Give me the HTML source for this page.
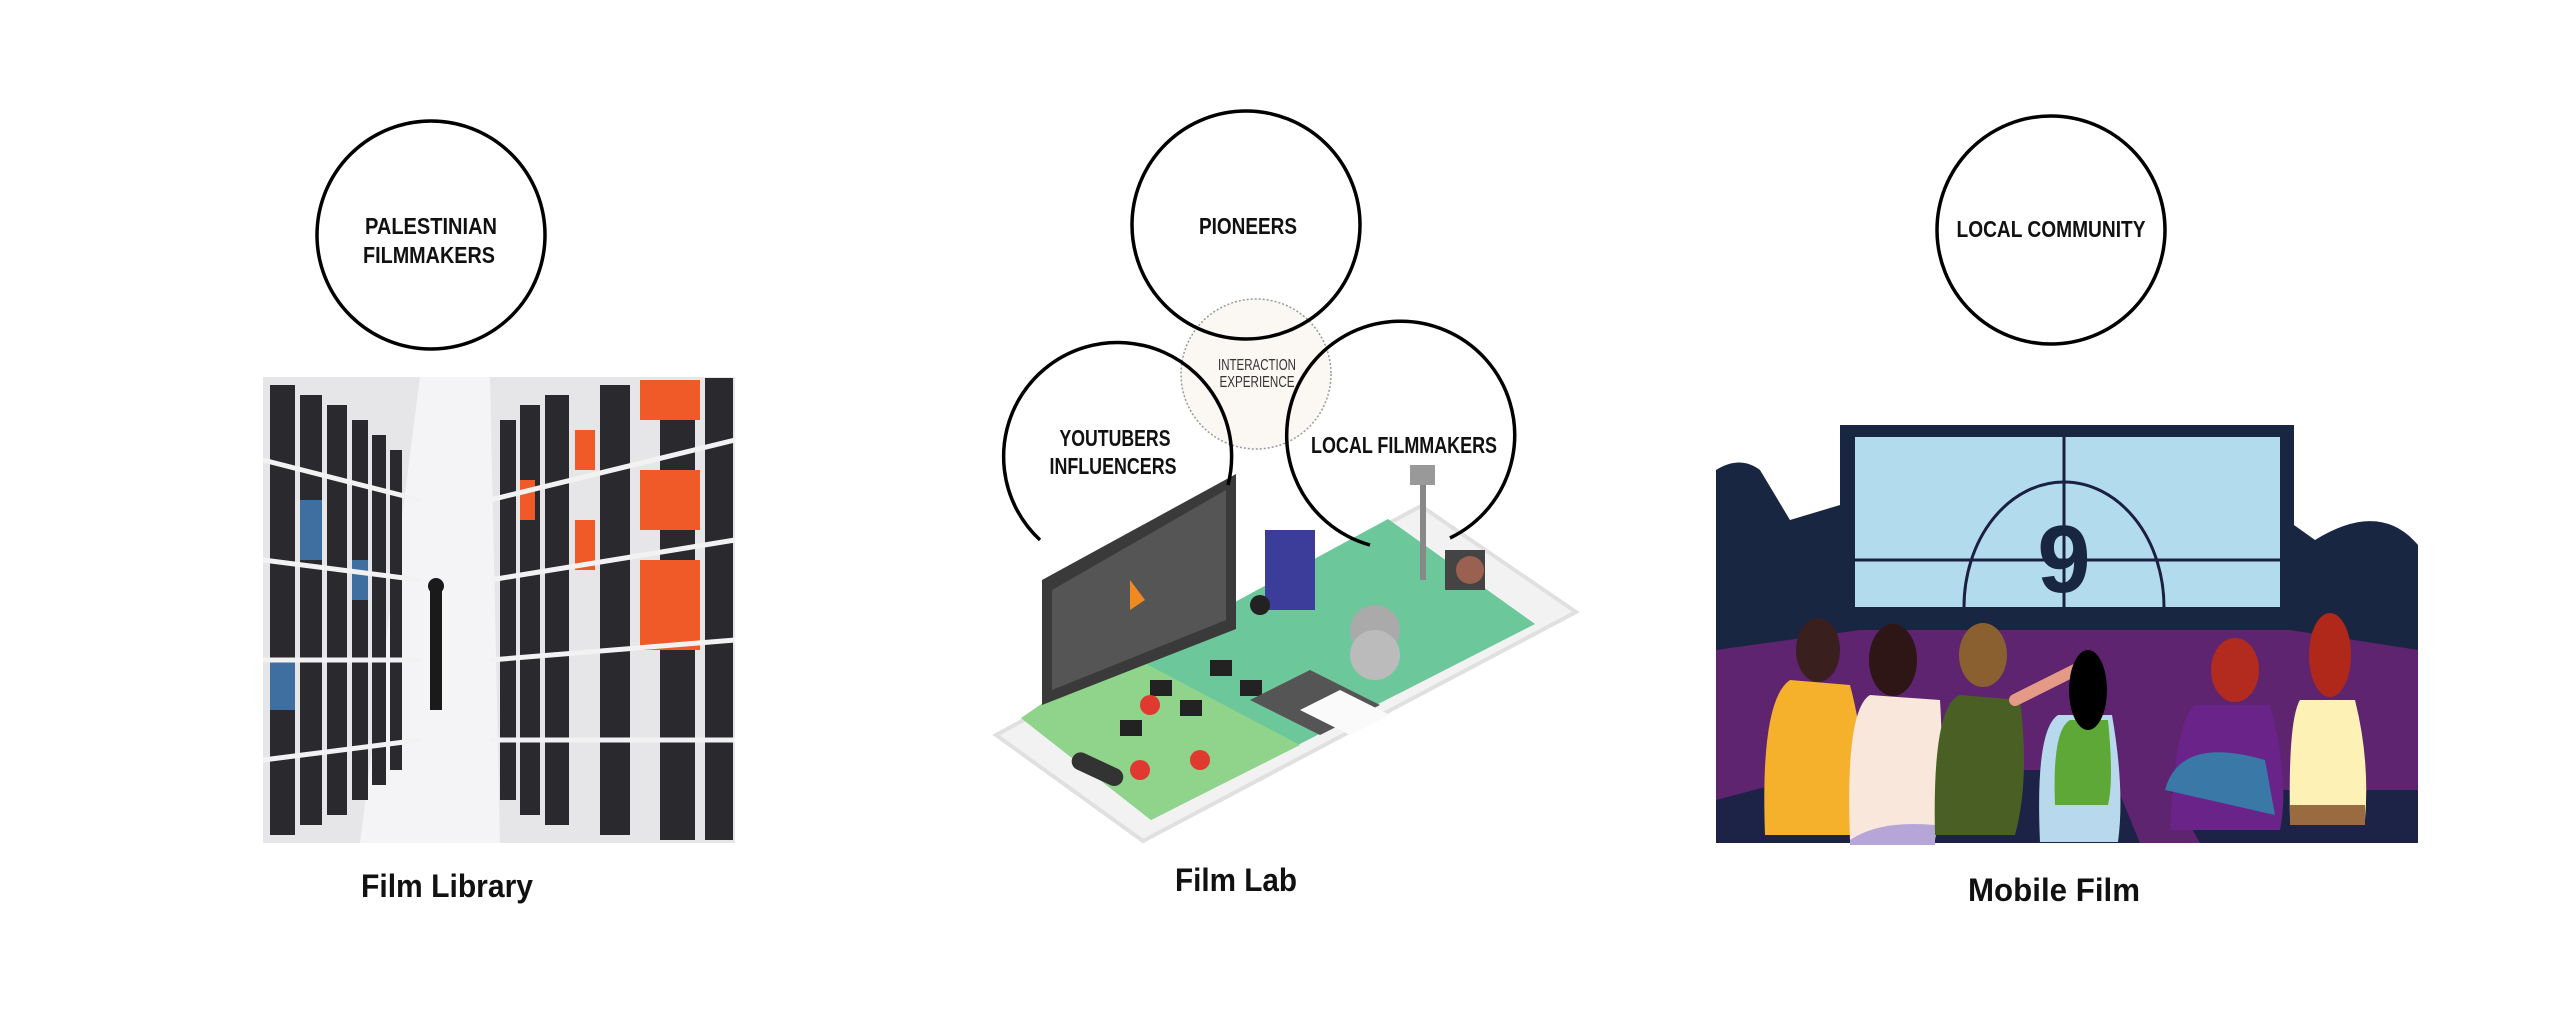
<!DOCTYPE html>
<html><head><meta charset="utf-8"><style>
html,body{margin:0;padding:0;background:#fff;}
svg{display:block}
.c{font-family:"Liberation Sans",sans-serif;font-weight:bold;font-size:23px;fill:#111;text-anchor:middle}
.l{font-family:"Liberation Sans",sans-serif;font-weight:bold;font-size:32px;fill:#111;text-anchor:middle}
</style></head><body>
<svg width="2560" height="1020" viewBox="0 0 2560 1020" xmlns="http://www.w3.org/2000/svg">
<!-- Film Library image -->
<g>
<rect x="263" y="377" width="472" height="466" fill="#e6e6e8"/>
<polygon points="420,377 490,377 500,843 360,843" fill="#f4f4f6"/>
<g fill="#2a2a2e">
<rect x="270" y="385" width="25" height="450"/><rect x="300" y="395" width="22" height="430"/><rect x="327" y="405" width="20" height="410"/><rect x="352" y="420" width="16" height="380"/><rect x="372" y="435" width="14" height="350"/><rect x="390" y="450" width="12" height="320"/>
<rect x="500" y="420" width="16" height="380"/><rect x="520" y="405" width="20" height="410"/><rect x="545" y="395" width="24" height="430"/><rect x="600" y="385" width="30" height="450"/><rect x="660" y="380" width="35" height="460"/><rect x="705" y="378" width="28" height="462"/>
</g>
<g fill="#f05a28"><rect x="640" y="380" width="60" height="40"/><rect x="640" y="470" width="60" height="60"/><rect x="640" y="560" width="60" height="90"/><rect x="575" y="520" width="20" height="50"/><rect x="575" y="430" width="20" height="40"/><rect x="520" y="480" width="15" height="40"/></g>
<g fill="#3f6ea0"><rect x="300" y="500" width="22" height="60"/><rect x="352" y="560" width="16" height="40"/><rect x="270" y="660" width="25" height="50"/></g>
<g stroke="#f2f2f2" stroke-width="5">
<line x1="263" y1="460" x2="420" y2="500"/><line x1="263" y1="560" x2="420" y2="580"/><line x1="263" y1="660" x2="420" y2="660"/><line x1="263" y1="760" x2="420" y2="740"/>
<line x1="735" y1="440" x2="490" y2="500"/><line x1="735" y1="540" x2="490" y2="580"/><line x1="735" y1="640" x2="490" y2="660"/><line x1="735" y1="740" x2="490" y2="740"/>
</g>
<rect x="430" y="590" width="12" height="120" fill="#1a1a1a"/><circle cx="436" cy="586" r="8" fill="#1a1a1a"/>
</g>
<!-- Film Lab phone -->
<g>
<polygon points="996,735 1143,841 1576,612 1421,506" fill="#f2f2f2" stroke="#e0e0e0" stroke-width="4"/>
<polygon points="1021,718 1151,820 1535,624 1388,519" fill="#6cc79a"/>
<polygon points="1021,718 1151,820 1300,745 1120,650" fill="#8fd48a"/>
<rect x="1070" y="760" width="55" height="18" rx="9" fill="#333" transform="rotate(25 1097 769)"/>
<polygon points="1042,580 1236,474 1236,629 1042,705" fill="#3a3a3a"/>
<polygon points="1052,590 1226,490 1226,620 1052,690" fill="#555"/>
<polygon points="1130,580 1145,600 1130,610" fill="#f08a20"/>
<rect x="1265" y="530" width="50" height="80" fill="#3c3c9a"/>
<g fill="#222"><rect x="1210" y="660" width="22" height="16"/><rect x="1240" y="680" width="22" height="16"/><rect x="1180" y="700" width="22" height="16"/><rect x="1150" y="680" width="22" height="16"/><rect x="1120" y="720" width="22" height="16"/></g>
<polygon points="1250,700 1310,670 1380,705 1320,735" fill="#555"/>
<polygon points="1300,710 1340,690 1390,715 1350,735" fill="#fafafa"/>
<circle cx="1375" cy="630" r="25" fill="#aaa"/><circle cx="1375" cy="655" r="25" fill="#bbb"/>
<rect x="1445" y="550" width="40" height="40" fill="#444"/><circle cx="1470" cy="570" r="14" fill="#9a6050"/>
<rect x="1420" y="480" width="6" height="100" fill="#888"/><rect x="1410" y="465" width="25" height="20" fill="#999"/>
<circle cx="1150" cy="705" r="10" fill="#e03a30"/><circle cx="1200" cy="760" r="10" fill="#e03a30"/><circle cx="1140" cy="770" r="10" fill="#e03a30"/><circle cx="1260" cy="605" r="10" fill="#222"/>
</g>
<!-- Mobile film -->
<g>
<path d="M1716,843 V470 Q1740,455 1760,470 L1790,520 L1840,505 V425 H2294 V525 L2315,540 Q2380,500 2418,545 V843 Z" fill="#182641"/>
<rect x="1855" y="437" width="425" height="170" fill="#b3dbee"/>
<line x1="2064" y1="437" x2="2064" y2="607" stroke="#1b2040" stroke-width="3"/>
<line x1="1855" y1="560" x2="2280" y2="560" stroke="#1b2040" stroke-width="3"/>
<path d="M1964,607 A100,125 0 1 1 2164,607" fill="none" stroke="#1b2040" stroke-width="3"/>
<text x="2064" y="592" font-family="Liberation Sans,sans-serif" font-weight="bold" font-size="96" fill="#182641" text-anchor="middle">9</text>
<polygon points="1716,650 1860,630 2290,630 2418,650 2418,843 1716,843" fill="#5f2470"/>
<polygon points="1716,800 1830,770 2110,770 2140,843 1716,843" fill="#1d2347"/>
<polygon points="2200,843 2170,790 2418,790 2418,843" fill="#1d2347"/>
<!-- people -->
<path d="M1765,835 Q1760,700 1790,680 L1850,685 Q1870,760 1860,835 Z" fill="#f6b12c"/><ellipse cx="1818" cy="650" rx="22" ry="32" fill="#3a1f1f"/>
<path d="M1850,840 Q1845,710 1870,695 L1940,700 Q1945,780 1935,840 Z" fill="#f8e7da"/><path d="M1850,840 Q1880,820 1935,825 L1935,845 L1850,845 Z" fill="#b6a6d8"/><ellipse cx="1893" cy="660" rx="24" ry="36" fill="#2e1616"/>
<path d="M1935,835 Q1932,705 1960,695 L2020,700 Q2030,780 2015,835 Z" fill="#4a5f24"/><ellipse cx="1983" cy="655" rx="24" ry="32" fill="#8a6030"/>
<path d="M2015,700 L2085,665" stroke="#e59a88" stroke-width="12" stroke-linecap="round"/>
<path d="M2040,842 Q2035,730 2058,715 L2112,715 Q2125,790 2118,842 Z" fill="#b8d8ee"/><path d="M2055,805 Q2052,730 2070,720 L2108,720 Q2114,780 2108,805 Z" fill="#5ea838"/><ellipse cx="2088" cy="690" rx="19" ry="40" fill="#000"/>
<path d="M2170,830 Q2175,720 2195,705 L2270,705 Q2290,780 2280,830 Z" fill="#6a2388"/><ellipse cx="2235" cy="670" rx="24" ry="32" fill="#b22b1e"/>
<path d="M2290,820 Q2288,720 2300,700 L2355,700 Q2370,760 2365,820 Z" fill="#fdf1b6"/><path d="M2290,805 L2365,805 L2365,825 L2290,825 Z" fill="#9a6a40"/><ellipse cx="2330" cy="655" rx="21" ry="42" fill="#b0281a"/>
<path d="M2165,790 Q2180,735 2265,760 L2275,815 Z" fill="#3a78a8"/>
</g>
<!-- circles -->
<circle cx="1256" cy="374" r="75" fill="#fbf7f2" stroke="#999" stroke-width="1.5" stroke-dasharray="2,2"/>
<g fill="none" stroke="#000" stroke-width="3.5">
<circle cx="431" cy="235" r="114"/>
<circle cx="1246" cy="225" r="114"/>
<path d="M1040,540 A114,114 0 1 1 1228,485"/>
<path d="M1370,545 A114,114 0 1 1 1450,538"/>
<circle cx="2051" cy="230" r="114"/>
</g>
<text class="c" x="1257" y="370" textLength="78" lengthAdjust="spacingAndGlyphs" style="font-weight:normal;font-size:16px;fill:#333">INTERACTION</text>
<text class="c" x="1257" y="387" textLength="75" lengthAdjust="spacingAndGlyphs" style="font-weight:normal;font-size:16px;fill:#333">EXPERIENCE</text>
<text class="c" x="431" y="234" textLength="132" lengthAdjust="spacingAndGlyphs">PALESTINIAN</text>
<text class="c" x="429" y="263" textLength="132" lengthAdjust="spacingAndGlyphs">FILMMAKERS</text>
<text class="c" x="1248" y="234" textLength="98" lengthAdjust="spacingAndGlyphs">PIONEERS</text>
<text class="c" x="1115" y="446" textLength="111" lengthAdjust="spacingAndGlyphs">YOUTUBERS</text>
<text class="c" x="1113" y="474" textLength="127" lengthAdjust="spacingAndGlyphs">INFLUENCERS</text>
<text class="c" x="1404" y="453" textLength="186" lengthAdjust="spacingAndGlyphs">LOCAL FILMMAKERS</text>
<text class="c" x="2051" y="237" textLength="189" lengthAdjust="spacingAndGlyphs">LOCAL COMMUNITY</text>
<text class="l" x="447" y="897" textLength="172" lengthAdjust="spacingAndGlyphs">Film Library</text>
<text class="l" x="1236" y="891" textLength="122" lengthAdjust="spacingAndGlyphs">Film Lab</text>
<text class="l" x="2054" y="901" textLength="172" lengthAdjust="spacingAndGlyphs">Mobile Film</text>
</svg>
</body></html>
